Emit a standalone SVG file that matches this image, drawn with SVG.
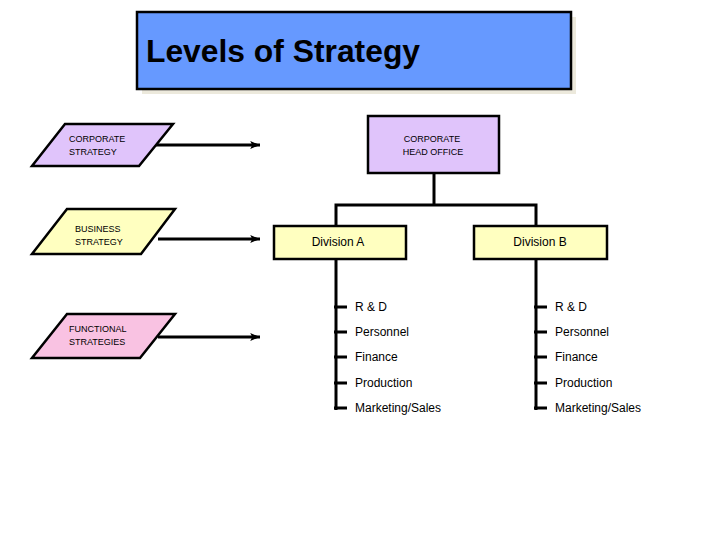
<svg xmlns="http://www.w3.org/2000/svg" width="720" height="540" viewBox="0 0 720 540">
<defs>
<style>
.ln{stroke:#000;stroke-width:3;fill:none}
.bx{stroke:#000;stroke-width:2.5}
.sm{font-family:"Liberation Sans",Arial,sans-serif;font-size:9px;fill:#000}
.it{font-family:"Liberation Sans",Arial,sans-serif;font-size:12px;fill:#000}
</style>
<marker id="ah" viewBox="0 0 10 8" refX="10" refY="4" markerWidth="6" markerHeight="2.6" orient="auto" markerUnits="strokeWidth">
<path d="M0,0 L10,4 L0,8 L2,4 Z" fill="#000"/>
</marker>
</defs>
<rect width="720" height="540" fill="#fff"/>
<g id="title">
<rect x="142" y="17" width="434" height="77" fill="#ECE9DC"/>
<rect x="137" y="12" width="434" height="77" fill="#6699FF" class="bx"/>
<text x="146" y="62" font-family="Liberation Sans,Arial,sans-serif" font-weight="bold" font-size="32" textLength="274" lengthAdjust="spacingAndGlyphs" fill="#000">Levels of Strategy</text>
</g>
<g id="corporate-strategy">
<polygon points="65,124 173,124 139,166 32,166" fill="#E0C4FB" class="bx"/>
<text class="sm" x="69" y="142">CORPORATE</text>
<text class="sm" x="69" y="155">STRATEGY</text>
</g>
<g id="business-strategy">
<polygon points="67,209 175,209 141,254 32,254" fill="#FFFFC0" class="bx"/>
<text class="sm" x="75" y="232">BUSINESS</text>
<text class="sm" x="75" y="245">STRATEGY</text>
</g>
<g id="functional-strategies">
<polygon points="67,314 175,314 140,358 32,358" fill="#F9C2E2" class="bx"/>
<text class="sm" x="69" y="332">FUNCTIONAL</text>
<text class="sm" x="69" y="345">STRATEGIES</text>
</g>
<g id="head-office">
<rect x="368" y="116" width="131" height="57" fill="#E0C4FB" class="bx"/>
<text class="sm" x="432" y="142" text-anchor="middle">CORPORATE</text>
<text class="sm" x="433" y="155" text-anchor="middle">HEAD OFFICE</text>
</g>
<g id="division-a">
<rect x="274" y="226" width="132" height="33" fill="#FFFFC0" class="bx"/>
<text class="it" x="338" y="246" text-anchor="middle">Division A</text>
</g>
<g id="division-b">
<rect x="474" y="226" width="133" height="33" fill="#FFFFC0" class="bx"/>
<text class="it" x="540" y="246" text-anchor="middle">Division B</text>
</g>
<g id="functions-a">
<text class="it" x="355" y="311">R &amp; D</text>
<text class="it" x="355" y="336">Personnel</text>
<text class="it" x="355" y="361">Finance</text>
<text class="it" x="355" y="387">Production</text>
<text class="it" x="355" y="412">Marketing/Sales</text>
</g>
<g id="functions-b">
<text class="it" x="555" y="311">R &amp; D</text>
<text class="it" x="555" y="336">Personnel</text>
<text class="it" x="555" y="361">Finance</text>
<text class="it" x="555" y="387">Production</text>
<text class="it" x="555" y="412">Marketing/Sales</text>
</g>
<g id="connectors">
<line class="ln" x1="156" y1="145" x2="260" y2="145" marker-end="url(#ah)"/>
<line class="ln" x1="158" y1="239" x2="260" y2="239" marker-end="url(#ah)"/>
<line class="ln" x1="158" y1="337" x2="260" y2="337" marker-end="url(#ah)"/>
<line class="ln" x1="434" y1="173" x2="434" y2="205"/>
<polyline class="ln" points="336,226 336,205 536,205 536,226"/>
<line class="ln" x1="336" y1="259" x2="336" y2="410"/>
<line class="ln" x1="536" y1="259" x2="536" y2="410"/>
<path class="ln" d="M334,307H347M334,332H347M334,357H347M334,383H347M334,408H347"/>
<path class="ln" d="M534,307H547M534,332H547M534,357H547M534,383H547M534,408H547"/>
</g>
</svg>
